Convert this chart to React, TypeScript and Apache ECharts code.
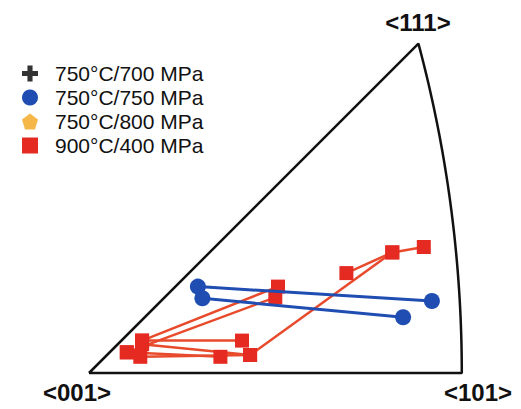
import React, { useEffect, useRef } from "react";
import * as echarts from "echarts";

// Stereographic-projection coordinates (X, Y) of each orientation
const blueTracks: number[][][] = [
  [[0.121, 0.096], [0.381, 0.080]],
  [[0.126, 0.083], [0.349, 0.062]],
];
const redTracks: number[][][] = [
  [[0.057, 0.018], [0.179, 0.020], [0.337, 0.134], [0.372, 0.140]],
  [[0.286, 0.111], [0.337, 0.134]],
  [[0.059, 0.036], [0.210, 0.096]],
  [[0.042, 0.023], [0.207, 0.084]],
  [[0.059, 0.036], [0.170, 0.036]],
  [[0.042, 0.023], [0.146, 0.018]],
  [[0.059, 0.032], [0.179, 0.020]],
];
const seriesNames = ["750°C/700 MPa", "750°C/750 MPa", "750°C/800 MPa", "900°C/400 MPa"];
const poleLabels = ["<001>", "<101>", "<111>"];

const W = 521;
const H = 409;
const PX = 900; // pixels per projection unit
const OX = 89; // pixel of <001>
const OY = 373;

function triangle(): number[][] {
  const pts: number[][] = [[0, 0]];
  // great circle [101] -> [111]: directions (1, t, 1)
  for (let i = 0; i <= 40; i++) {
    const t = i / 40;
    const d = Math.sqrt(2 + t * t) + 1;
    pts.push([1 / d, t / d]);
  }
  pts.push([0, 0]);
  return pts;
}

const PLUS = "path://M3.4,0H6.6V3.4H10V6.6H6.6V10H3.4V6.6H0V3.4H3.4Z";
const PENTA = "path://M5,0L10,3.8L8.1,10H1.9L0,3.8Z";

export default function App() {
  const ref = useRef<HTMLDivElement>(null);
  useEffect(() => {
    const chart = echarts.init(ref.current!, null, { renderer: "svg" });
    const red = "#e52a22";
    const redLine = "#e84a2c";
    const blue = "#1f4db2";
    const series: any[] = [
      {
        type: "line",
        name: "outline",
        data: triangle(),
        showSymbol: false,
        symbol: "none",
        lineStyle: { color: "#111", width: 2.5 },
        silent: true,
        z: 1,
      },
      { type: "scatter", name: seriesNames[0], data: [], itemStyle: { color: "#000" } },
      { type: "scatter", name: seriesNames[2], data: [], itemStyle: { color: "#f2a51a" } },
    ];
    redTracks.forEach((tr) =>
      series.push({
        type: "line",
        name: seriesNames[3],
        data: tr,
        symbol: "rect",
        symbolSize: 14,
        itemStyle: { color: red },
        lineStyle: { color: redLine, width: 2.5 },
        z: 2,
      })
    );
    blueTracks.forEach((tr) =>
      series.push({
        type: "line",
        name: seriesNames[1],
        data: tr,
        symbol: "circle",
        symbolSize: 16,
        itemStyle: { color: blue },
        lineStyle: { color: blue, width: 3 },
        z: 3,
      })
    );
    const labelStyle = {
      fill: "#111",
      font: "bold 24px 'Liberation Sans', Arial, sans-serif",
      textAlign: "center",
      textVerticalAlign: "middle",
    };
    chart.setOption({
      animation: false,
      grid: { left: 0, right: 0, top: 0, bottom: 0 },
      xAxis: { type: "value", min: -OX / PX, max: (W - OX) / PX, show: false },
      yAxis: { type: "value", min: -(H - OY) / PX, max: OY / PX, show: false },
      legend: {
        orient: "vertical",
        left: 17,
        top: 58,
        itemWidth: 16,
        itemHeight: 16,
        itemGap: 3,
        textStyle: {
          fontSize: 21,
          fontFamily: "'Liberation Sans', Arial, sans-serif",
          color: "#111",
          padding: [0, 0, 0, 12],
        },
        data: [
          { name: seriesNames[0], icon: PLUS },
          { name: seriesNames[1], icon: "circle" },
          { name: seriesNames[2], icon: PENTA },
          { name: seriesNames[3], icon: "rect", itemStyle: { color: red } },
        ],
      },
      graphic: [
        { type: "text", x: 77, y: 392, style: { ...labelStyle, text: poleLabels[0] } },
        { type: "text", x: 478, y: 392, style: { ...labelStyle, text: poleLabels[1] } },
        { type: "text", x: 418, y: 22, style: { ...labelStyle, text: poleLabels[2] } },
      ],
      series,
    });
    return () => chart.dispose();
  }, []);
  return (
    <div
      ref={ref}
      style={{ position: "fixed", left: 0, top: 0, width: W, height: H, background: "#fff" }}
    />
  );
}
